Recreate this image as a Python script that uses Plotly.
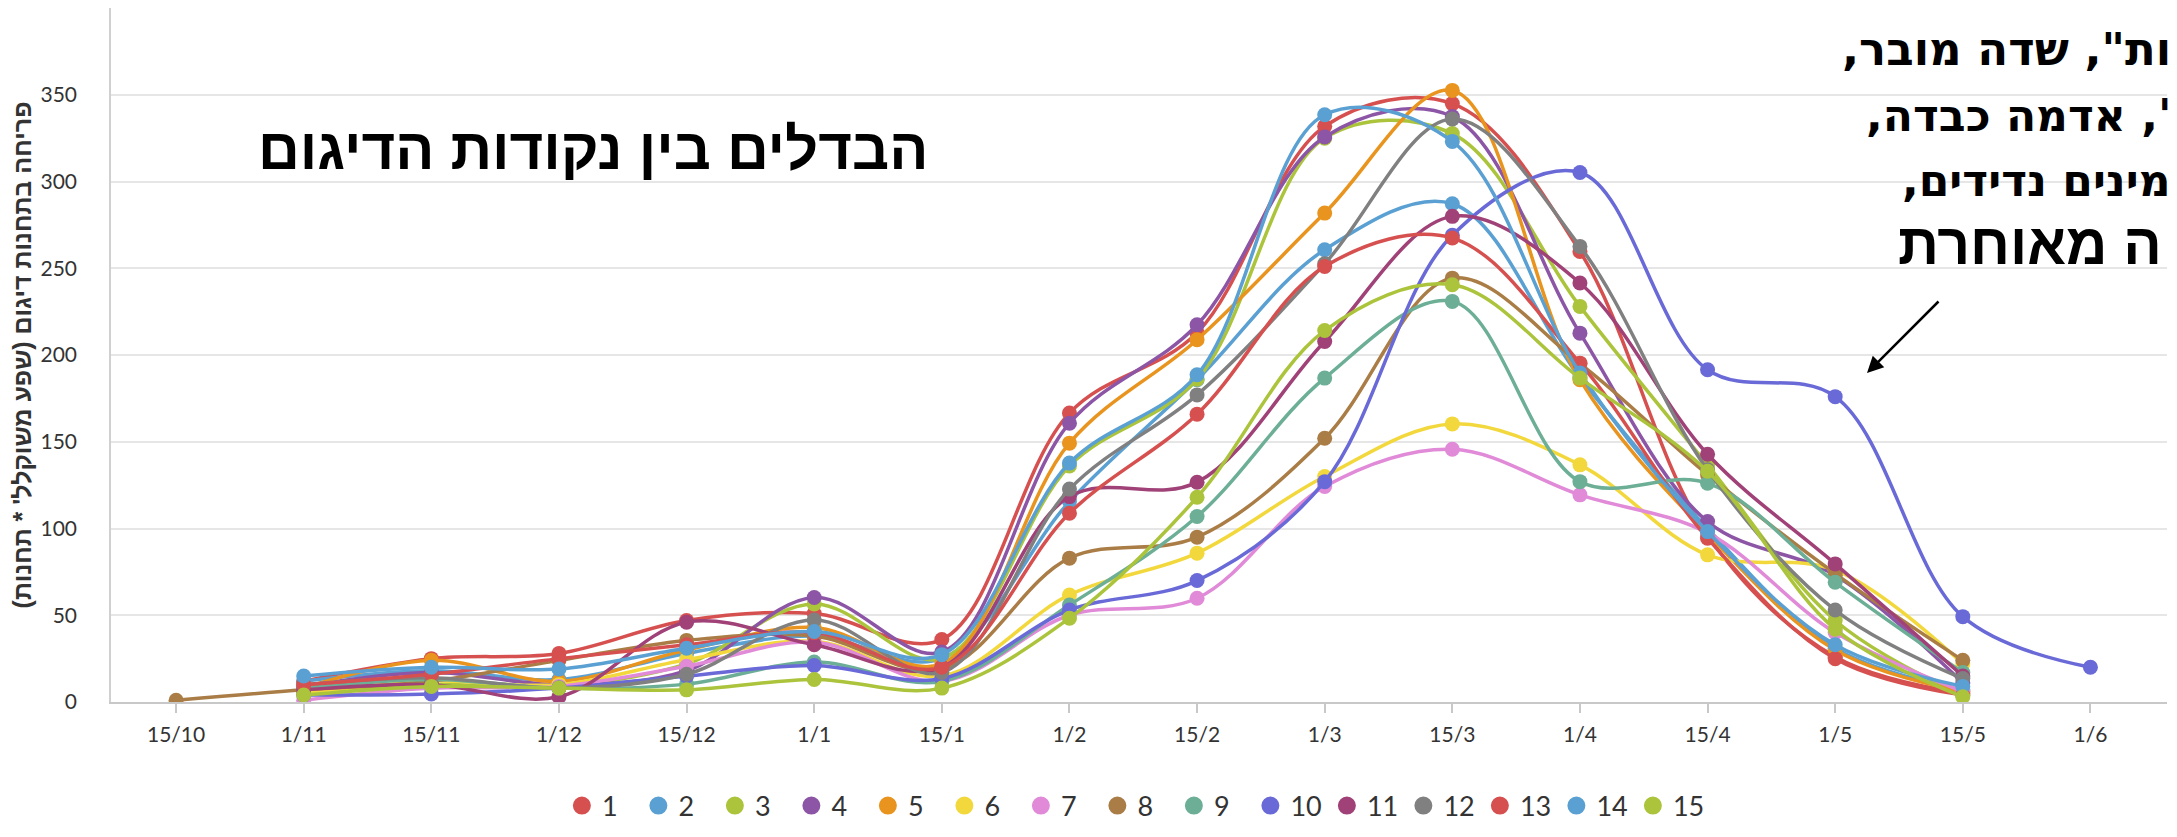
import plotly.graph_objects as go

categories = ['15/10', '1/11', '15/11', '1/12', '15/12', '1/1', '15/1', '1/2',
              '15/2', '1/3', '15/3', '1/4', '15/4', '1/5', '15/5', '1/6']

N = None
s1 = [N, 12, 25, 28, 47, 51, 36, 166.5, 212.8, 331.8, 344.9, 259.7, 96, 26, 5, N]
s2 = [N, 12, 18, 13, 28, 38, 25, 115.5, 185.7, 260.7, 287.2, 187, 100, 31, 7, N]
s3 = [N, 6, 10, 9, 22, 56.5, 25, 136, 186, 325, 327.6, 228, 136.7, 47, 4, N]
s4 = [N, 9, 17, 10, 18, 60.2, 28.8, 160.7, 217.4, 325.7, 337.4, 212.6, 104, 73, 11, N]
s5 = [N, 8, 24, 12, 30, 43, 22, 149.2, 208.8, 281.8, 352.5, 185.7, 97, 30, 6, N]
s6 = [N, 5, 12, 10, 24.4, 35, 15, 61.7, 85.8, 130, 160.3, 136.7, 84.8, 76, 22, N]
s7 = [N, 1, 8, 9, 20.6, 34.5, 12, 50, 59.8, 124.2, 145.7, 119.4, 97.5, 40, 6, N]
s8 = [1, 7, 12, 24, 35.5, 38, 19, 82.9, 95, 152, 244.3, 195, 131, 74, 24, N]
s9 = [N, 8, 13, 8, 10.3, 23, 12, 55.9, 106.9, 186.7, 230.9, 127, 126.1, 69, 17, N]
s10 = [N, 4, 4.6, 8, 15, 21, 13.5, 53, 70, 127, 269, 305.2, 191.5, 176, 49.2, 20]
s11 = [N, 7, 10, 3, 46, 33, 20, 118.4, 126.7, 207.8, 279.9, 241.5, 142.8, 79.6, 15, N]
s12 = [N, 10, 14, 8, 16, 47.3, 17, 122.7, 177, 252.6, 336, 262.6, 133.8, 53, 13.5, N]
s13 = [N, 10, 16, 25, 33, 40, 20, 108.8, 165.9, 251, 267.4, 195.3, 94.4, 25, 4, N]
s14 = [N, 15, 20, 19, 31, 40.6, 27.3, 137.7, 188.6, 338.5, 323.1, 189.6, 98.2, 33, 9, N]
s15 = [N, 4, 9, 8, 7, 13, 8, 48.3, 118, 214.1, 240.5, 186.7, 133, 42, 3, N]

series_names = ['1', '2', '3', '4', '5', '6', '7', '8', '9', '10', '11', '12', '13', '14', '15']
series_values = [s1, s2, s3, s4, s5, s6, s7, s8, s9, s10, s11, s12, s13, s14, s15]
colors = ['#d65050', '#5aa0d2', '#abc43c', '#8c55a5', '#e8941e', '#f2d83c', '#e08ad8',
          '#aa7d46', '#6caf96', '#6969d7', '#a04178', '#808080', '#d65050', '#5aa0d2', '#abc43c']

y_tickvals = [0, 50, 100, 150, 200, 250, 300, 350, 400]
y_ticktext = ['0', '50', '100', '150', '200', '250', '300', '350', '']

title_text = 'הבדלים בין נקודות הדיגום'
y_title = "פריחה בתחנות דיגום (שפע משוקלל' * תחנות)"
note_lines = ['ות", שדה מובר,', "', אדמה כבדה,", 'מינים נדידים,', 'ה מאוחרת']

# the page body has an 8px margin; the figure is sized to fill the window from there
OFF = 8
W, H = 2177 - OFF, 837 - OFF
PLOT_L, PLOT_R, PLOT_T, PLOT_B = 111, 2167, 8, 702   # plot box in window pixels
L = PLOT_L - OFF
T = PLOT_T - OFF
R = W - (PLOT_R - OFF)
B = H - (PLOT_B - OFF)
PW, PH = PLOT_R - PLOT_L, PLOT_B - PLOT_T

fig = go.Figure()
for name, vals, col in zip(series_names, series_values, colors):
    fig.add_trace(go.Scatter(
        x=categories, y=vals, mode='lines+markers', name=name,
        line=dict(color=col, width=3.5, shape='spline', smoothing=1),
        marker=dict(color=col, size=15),
        showlegend=False, legendgroup=name, hoverinfo='x+y+name'))
    fig.add_trace(go.Scatter(
        x=[None], y=[None], mode='markers', name=name,
        marker=dict(color=col, size=20, line=dict(color=col, width=2)),
        legendgroup=name, showlegend=True))

font_fam = 'Lato, Open Sans, DejaVu Sans, sans-serif'
heb_fam = 'Liberation Sans, Arial, DejaVu Sans, sans-serif'
note_fam = 'DejaVu Sans, Liberation Sans, sans-serif'

fig.update_layout(
    width=W, height=H,
    margin=dict(l=L, r=R, t=T, b=B, autoexpand=False),
    paper_bgcolor='white', plot_bgcolor='white',
    font=dict(family=font_fam, color='#333333'),
    xaxis=dict(type='category', categoryorder='array', categoryarray=categories,
               range=[-0.51, 15.6], showgrid=False, zeroline=False,
               showline=True, linecolor='#c8c8c8', linewidth=1.5,
               ticks='outside', ticklen=9, tickcolor='#c8c8c8', tickwidth=1.5,
               tickfont=dict(size=21, color='#333333', family=font_fam),
               ticklabelstandoff=4),
    yaxis=dict(range=[0, 400], tickvals=y_tickvals, ticktext=y_ticktext,
               showgrid=True, gridcolor='#e6e6e6', gridwidth=1.5, zeroline=False,
               showline=True, linecolor='#d0d0d0', linewidth=1.5,
               tickfont=dict(size=21, color='#333333', family=font_fam),
               ticklabelstandoff=28,
               title=dict(text=y_title, standoff=12,
                          font=dict(size=25, color='#333333', family=heb_fam, weight='bold'))),
    legend=dict(orientation='h', xref='container', x=0.520, xanchor='center',
                yref='container', y=1 - (806 - OFF) / H, yanchor='middle',
                entrywidthmode='pixels', entrywidth=31.5,
                font=dict(size=27, color='#333333', family=font_fam),
                itemsizing='trace', bgcolor='rgba(0,0,0,0)'),
    showlegend=True,
)

def px_x(px):
    return (px - PLOT_L) / PW

def px_y(py):
    return (PLOT_B - py) / PH

fig.add_annotation(text=title_text, xref='paper', yref='paper',
                   x=px_x(593), y=px_y(148), xanchor='center', yanchor='middle',
                   showarrow=False,
                   font=dict(size=58, color='black', family=heb_fam, weight='bold'))

# right-hand note, right-aligned against the right edge of the picture
note_y = [50, 116, 180, 244]
note_right = [2173, 2173, 2173, 2164]
note_size = [45, 44, 44, 57]
note_fams = [note_fam, note_fam, note_fam, heb_fam]
for txt, yy, xr, sz, fam in zip(note_lines, note_y, note_right, note_size, note_fams):
    fig.add_annotation(text='\u202b' + txt + '\u202c', xref='paper', yref='paper',
                       x=px_x(xr), y=px_y(yy), xanchor='right', yanchor='middle',
                       showarrow=False,
                       font=dict(size=sz, color='black', family=fam, weight='bold'))

fig.add_annotation(text='', xref='paper', yref='paper',
                   x=px_x(1867), y=px_y(373), ax=73, ay=-73,
                   showarrow=True, arrowhead=2, arrowsize=1.3, arrowwidth=2.5,
                   arrowcolor='black')

fig.write_html('out.html')
